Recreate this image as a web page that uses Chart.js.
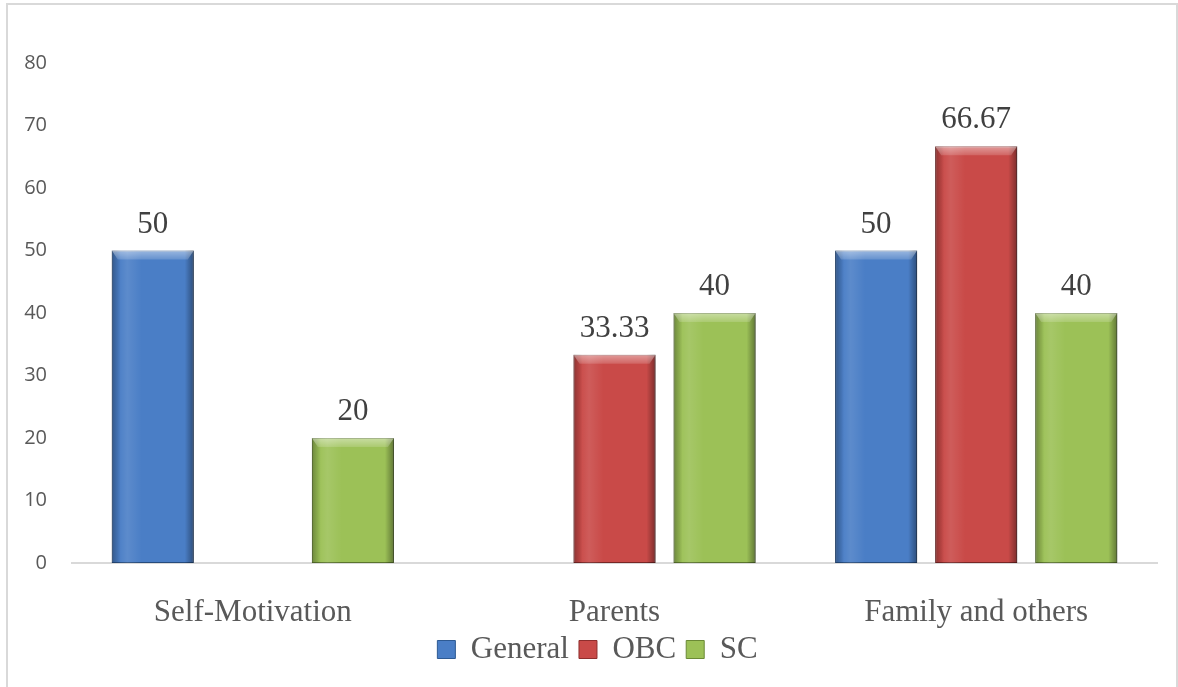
<!DOCTYPE html>
<html>
<head>
<meta charset="utf-8">
<script src="https://cdn.jsdelivr.net/npm/chart.js@4/dist/chart.umd.min.js"></script>
<style>
  html,body{margin:0;padding:0;background:#fff;width:1178px;height:687px;overflow:hidden;}
  #frame{position:absolute;left:6px;top:3px;width:1172px;height:720px;border:2px solid #d9d9d9;box-sizing:border-box;}
  #wrap{position:absolute;left:0;top:0;width:1178px;height:687px;}
</style>
</head>
<body>
<div id="frame"></div>
<div id="wrap"><canvas id="c" width="1178" height="687"></canvas></div>
<script>
const categories = ['Self-Motivation', 'Parents', 'Family and others'];
const seriesNames = ['General', 'OBC', 'SC'];
const generalValues = [50, null, 50];
const obcValues = [null, 33.33, 66.67];
const scValues = [20, 40, 40];
const yMin = 0, yMax = 80, yStep = 10;

const baseColors = ['#4A7EC6', '#C94A48', '#9CC157'];
const edgeColors = ['#2E5A93', '#8E2E2D', '#6B8A36'];

// widen label clip areas after layout (positions unchanged)
const labelRoomPlugin = {
  id: 'labelRoom',
  afterLayout(chart) {
    chart.scales.y.left = 0;
    chart.scales.x.bottom += 18;
  }
};

const bevelPlugin = {
  id: 'bevel',
  beforeDatasetDraw(chart) {
    const ctx = chart.ctx;
    ctx.save();
    ctx.shadowColor = 'rgba(0,0,0,0.28)';
    ctx.shadowBlur = 6;
    ctx.shadowOffsetX = 3;
    ctx.shadowOffsetY = 1;
  },
  afterDatasetDraw(chart, args) {
    const ctx = chart.ctx;
    ctx.restore();
    const meta = args.meta;
    meta.data.forEach((el, i) => {
      const v = meta._parsed[i] && meta._parsed[i].y;
      if (v === null || v === undefined || isNaN(v)) return;
      const { x, y, base, width } = el.getProps(['x', 'y', 'base', 'width'], true);
      const l = x - width / 2, r = x + width / 2, t = y, b = base;
      ctx.save();
      let g = ctx.createLinearGradient(l, 0, l + 9, 0);
      g.addColorStop(0, 'rgba(0,0,0,0.30)');
      g.addColorStop(1, 'rgba(0,0,0,0)');
      ctx.fillStyle = g; ctx.fillRect(l, t, 9, b - t);
      g = ctx.createLinearGradient(r - 9, 0, r, 0);
      g.addColorStop(0, 'rgba(0,0,0,0)');
      g.addColorStop(1, 'rgba(0,0,0,0.38)');
      ctx.fillStyle = g; ctx.fillRect(r - 9, t, 9, b - t);
      g = ctx.createLinearGradient(l + 6, 0, l + 30, 0);
      g.addColorStop(0, 'rgba(255,255,255,0.0)');
      g.addColorStop(0.4, 'rgba(255,255,255,0.10)');
      g.addColorStop(1, 'rgba(255,255,255,0.0)');
      ctx.fillStyle = g; ctx.fillRect(l + 6, t, 24, b - t);
      const bh = Math.min(9, (b - t) / 2);
      ctx.beginPath();
      ctx.moveTo(l, t); ctx.lineTo(r, t); ctx.lineTo(r - 6, t + bh); ctx.lineTo(l + 6, t + bh); ctx.closePath();
      g = ctx.createLinearGradient(0, t, 0, t + bh);
      g.addColorStop(0, 'rgba(255,255,255,0.45)');
      g.addColorStop(1, 'rgba(255,255,255,0.15)');
      ctx.fillStyle = g; ctx.fill();
      ctx.restore();
    });
  }
};

const dataLabelPlugin = {
  id: 'dataLabels',
  afterDatasetsDraw(chart) {
    const ctx = chart.ctx;
    ctx.save();
    ctx.font = '31px "Liberation Serif", "Times New Roman", serif';
    ctx.fillStyle = '#404040';
    ctx.textAlign = 'center';
    ctx.textBaseline = 'alphabetic';
    chart.data.datasets.forEach((ds, di) => {
      const meta = chart.getDatasetMeta(di);
      meta.data.forEach((el, i) => {
        const v = ds.data[i];
        if (v === null || v === undefined) return;
        const { x, y } = el.getProps(['x', 'y'], true);
        ctx.fillText(String(v), x, y - 18);
      });
    });
    ctx.restore();
  }
};

const allValues = [generalValues, obcValues, scValues];
new Chart(document.getElementById('c'), {
  type: 'bar',
  data: {
    labels: categories,
    datasets: seriesNames.map((name, k) => ({
      label: name,
      data: allValues[k],
      backgroundColor: baseColors[k],
      borderColor: edgeColors[k],
      borderWidth: 1,
      borderSkipped: false,
      categoryPercentage: 0.83,
      barPercentage: 0.82
    }))
  },
  options: {
    responsive: false,
    animation: false,
    devicePixelRatio: 1,
    layout: { padding: { top: 63, right: 21, left: 38, bottom: 12 } },
    plugins: {
      tooltip: { enabled: false },
      legend: {
        position: 'bottom',
        labels: {
          boxWidth: 18,
          boxHeight: 18,
          padding: 10,
          color: '#595959',
          font: { family: '"Liberation Serif", "Times New Roman", serif', size: 31 }
        }
      }
    },
    scales: {
      x: {
        grid: { display: false, drawTicks: false },
        border: { display: true, color: '#d9d9d9', width: 2 },
        ticks: {
          color: '#595959',
          padding: 31,
          font: { family: '"Liberation Serif", "Times New Roman", serif', size: 31 }
        },
        afterFit(s) { s.height = 61; }
      },
      y: {
        min: yMin, max: yMax,
        grid: { display: false, drawTicks: false },
        border: { display: false },
        ticks: {
          stepSize: yStep,
          color: '#595959',
          padding: 25,
          font: { family: '"Open Sans", "Liberation Sans", sans-serif', size: 20 }
        },
        afterFit(s) { s.width = 34; }
      }
    }
  },
  plugins: [labelRoomPlugin, bevelPlugin, dataLabelPlugin]
});
</script>
</body>
</html>
